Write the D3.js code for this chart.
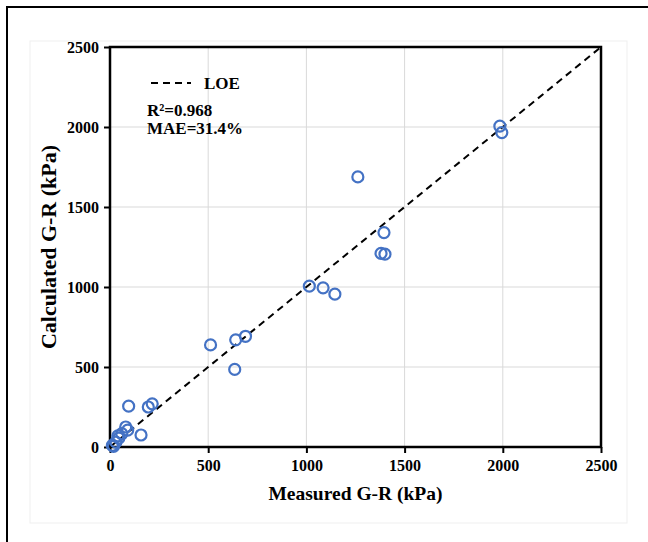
<!DOCTYPE html>
<html>
<head>
<meta charset="utf-8">
<script src="https://cdn.jsdelivr.net/npm/d3@7"></script>
<style>
  body { margin: 0; background: #fff; }
  svg text { font-family: "Liberation Serif", "Times New Roman", serif; font-weight: bold; fill: #000; }
</style>
</head>
<body>
<div id="chart"></div>
<script>
// measured vs calculated G-R (kPa)
const measured = [1985, 1995, 1262, 1395, 1380, 1400, 1015, 1085, 1145, 512, 640, 690, 635,
                  95, 195, 215, 158, 80, 90, 60, 45, 30, 12, 40, 18];
const calculated = [2005, 1965, 1688, 1340, 1210, 1205, 1005, 995, 955, 638, 670, 692, 485,
                    255, 250, 270, 75, 125, 105, 83, 56, 30, 10, 70, 4];
const ticks = [0, 500, 1000, 1500, 2000, 2500];
const stats = ["R²=0.968", "MAE=31.4%"];

const W = 648, H = 542;
const m = { left: 110, top: 47, right: 47, bottom: 95 };
const innerW = W - m.left - m.right, innerH = H - m.top - m.bottom;

const svg = d3.select("#chart").append("svg").attr("width", W).attr("height", H);

// outer frame (only top/left visible in the picture)
svg.append("rect").attr("x", 7).attr("y", 7).attr("width", 700).attr("height", 600)
  .attr("fill", "none").attr("stroke", "#000").attr("stroke-width", 2);
// faint chart-area box
svg.append("rect").attr("x", 30).attr("y", 41).attr("width", 597).attr("height", 482)
  .attr("fill", "none").attr("stroke", "#efefef").attr("stroke-width", 1);

const x = d3.scaleLinear().domain([0, 2500]).range([0, innerW]);
const y = d3.scaleLinear().domain([0, 2500]).range([innerH, 0]);

const g = svg.append("g").attr("transform", `translate(${m.left},${m.top})`);

// gridlines
g.append("g").selectAll("line").data(ticks.slice(1, -1)).join("line")
  .attr("x1", d => x(d)).attr("x2", d => x(d)).attr("y1", 0).attr("y2", innerH)
  .attr("stroke", "#d9d9d9").attr("stroke-width", 1);
g.append("g").selectAll("line").data(ticks.slice(1, -1)).join("line")
  .attr("y1", d => y(d)).attr("y2", d => y(d)).attr("x1", 0).attr("x2", innerW)
  .attr("stroke", "#d9d9d9").attr("stroke-width", 1);

// axes
const xAxis = g.append("g").attr("transform", `translate(0,${innerH})`)
  .call(d3.axisBottom(x).tickValues(ticks).tickSize(6).tickPadding(7).tickFormat(d3.format("d")));
const yAxis = g.append("g")
  .call(d3.axisLeft(y).tickValues(ticks).tickSize(6).tickPadding(5).tickFormat(d3.format("d")));
[xAxis, yAxis].forEach(a => {
  a.select(".domain").remove();
  a.selectAll("line").attr("stroke", "#000").attr("stroke-width", 2);
  a.selectAll("text").style("font-size", "16px").style("font-family", "Liberation Serif").style("font-weight", "bold");
});

// plot frame
g.append("rect").attr("width", innerW).attr("height", innerH)
  .attr("fill", "none").attr("stroke", "#000").attr("stroke-width", 2.5);

// line of equality
g.append("line")
  .attr("x1", x(0)).attr("y1", y(0)).attr("x2", x(2500)).attr("y2", y(2500))
  .attr("stroke", "#000").attr("stroke-width", 2).attr("stroke-dasharray", "7,5");

// points
g.append("g").selectAll("circle").data(measured.map((d, i) => [d, calculated[i]])).join("circle")
  .attr("cx", d => x(d[0])).attr("cy", d => y(d[1])).attr("r", 5.5)
  .attr("fill", "none").attr("stroke", "#4472C4").attr("stroke-width", 2.2);

// legend
g.append("line").attr("x1", 41).attr("x2", 81).attr("y1", 36).attr("y2", 36)
  .attr("stroke", "#000").attr("stroke-width", 2).attr("stroke-dasharray", "7,5");
g.append("text").attr("x", 94).attr("y", 42).style("font-size", "17px").text("LOE");
g.selectAll("text.stat").data(stats).join("text").attr("class", "stat")
  .attr("x", 37).attr("y", (d, i) => 69 + i * 18).style("font-size", "17px").text(d => d);

// axis titles
svg.append("text").attr("x", m.left + innerW / 2).attr("y", 500)
  .attr("text-anchor", "middle").style("font-size", "19.5px").text("Measured G-R (kPa)");
svg.append("text").attr("transform", `translate(56,247) rotate(-90)`)
  .attr("text-anchor", "middle").style("font-size", "22px").text("Calculated G-R (kPa)");
</script>
</body>
</html>
